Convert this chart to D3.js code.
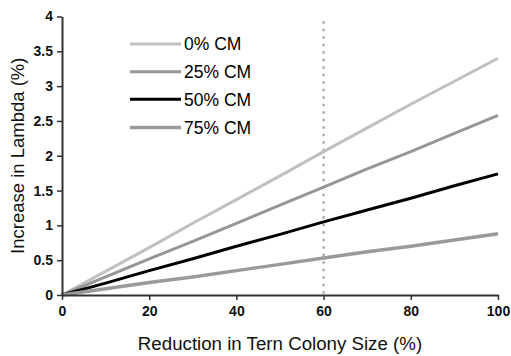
<!DOCTYPE html>
<html><head><meta charset="utf-8">
<script src="https://cdn.jsdelivr.net/npm/d3@7"></script>
<style>body{margin:0;background:#fff}svg{display:block}text{font-family:"Liberation Sans",Arial,sans-serif}</style>
</head><body>
<svg id="c" width="511" height="356"></svg>
<script>
const xValues = [0,10,20,30,40,50,60,70,80,90,100];
const cm0  = [0,0.34,0.68,1.03,1.37,1.71,2.06,2.40,2.74,3.07,3.40];
const cm25 = [0,0.26,0.52,0.77,1.03,1.29,1.55,1.81,2.06,2.32,2.58];
const cm50 = [0,0.17,0.35,0.52,0.70,0.87,1.05,1.22,1.39,1.57,1.74];
const cm75 = [0,0.09,0.18,0.26,0.35,0.44,0.53,0.62,0.70,0.79,0.88];
const seriesNames = ["0% CM","25% CM","50% CM","75% CM"];
const xTicks = [0,20,40,60,80,100];
const yTicks = [0,0.5,1,1.5,2,2.5,3,3.5,4];
const refX = 60;

const series = [
  {name: seriesNames[0], vals: cm0,  color: "#c0c0c0", w: 3},
  {name: seriesNames[1], vals: cm25, color: "#969696", w: 3},
  {name: seriesNames[2], vals: cm50, color: "#000000", w: 3},
  {name: seriesNames[3], vals: cm75, color: "#9a9a9a", w: 3.5}
];

const svg = d3.select("#c");
const L = 62, R = 498, T = 16.5, B = 295;
const x = d3.scaleLinear().domain([0,100]).range([L,R]);
const y = d3.scaleLinear().domain([0,4]).range([B,T]);

// reference line
svg.append("line").attr("x1",x(refX)).attr("x2",x(refX)).attr("y1",y(3.93)).attr("y2",B)
  .attr("stroke","#999").attr("stroke-width",2).attr("stroke-dasharray","2.5,5");

const line = d3.line().x((d,i)=>x(xValues[i])).y(d=>y(d));
series.forEach(s=>{
  svg.append("path").datum(s.vals).attr("d",line).attr("fill","none")
    .attr("stroke",s.color).attr("stroke-width",s.w);
});

// axes
const xAxis = d3.axisBottom(x).tickValues(xTicks).tickSize(5).tickSizeOuter(0).tickFormat(d3.format("d"));
const gx = svg.append("g").attr("transform",`translate(0,${B})`).call(xAxis);
const yAxis = d3.axisLeft(y).tickValues(yTicks).tickSize(5).tickSizeOuter(0).tickFormat(d=>String(d));
const gy = svg.append("g").attr("transform",`translate(${L},0)`).call(yAxis);
[gx,gy].forEach(g=>{
  g.select(".domain").attr("stroke","#333").attr("stroke-width",2);
  g.selectAll(".tick line").attr("stroke","#333").attr("stroke-width",1.5);
  g.selectAll(".tick text").attr("font-size",14).attr("font-weight","bold").attr("fill","#111")
    .style("font-family",'"Liberation Sans",Arial,sans-serif');
});
gx.selectAll(".tick text").attr("dy","0.71em").attr("y",11);
gy.selectAll(".tick text").attr("x",-9);

// axis titles
svg.append("text").attr("x",280).attr("y",350).attr("text-anchor","middle")
  .attr("font-size",18.7).attr("fill","#111").text("Reduction in Tern Colony Size (%)");
svg.append("text").attr("transform",`translate(24,${(T+B)/2}) rotate(-90)`).attr("text-anchor","middle")
  .attr("font-size",18.5).attr("fill","#111").text("Increase in Lambda (%)");

// legend
const ly = [44, 71.7, 99.3, 127.5];
series.forEach((s,i)=>{
  svg.append("line").attr("x1",130).attr("x2",181).attr("y1",ly[i]).attr("y2",ly[i])
    .attr("stroke",s.color).attr("stroke-width",s.w);
  svg.append("text").attr("x",184).attr("y",ly[i]).attr("dy","0.36em")
    .attr("font-size",17.5).attr("fill","#000").text(s.name);
});
</script>
</body></html>
